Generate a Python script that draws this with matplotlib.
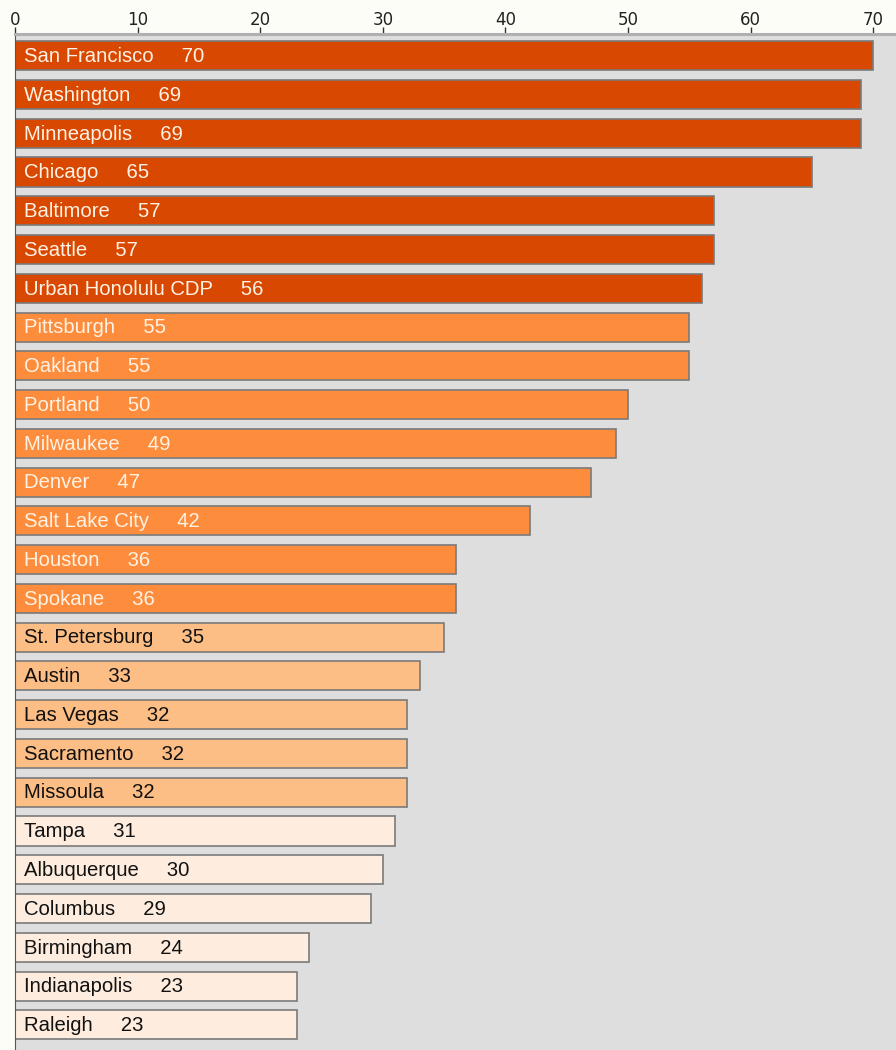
import matplotlib.pyplot as plt

cities = ['San Francisco', 'Washington', 'Minneapolis', 'Chicago', 'Baltimore',
          'Seattle', 'Urban Honolulu CDP', 'Pittsburgh', 'Oakland', 'Portland',
          'Milwaukee', 'Denver', 'Salt Lake City', 'Houston', 'Spokane',
          'St. Petersburg', 'Austin', 'Las Vegas', 'Sacramento', 'Missoula',
          'Tampa', 'Albuquerque', 'Columbus', 'Birmingham', 'Indianapolis', 'Raleigh']
values = [70, 69, 69, 65, 57, 57, 56, 55, 55, 50, 49, 47, 42, 36, 36,
          35, 33, 32, 32, 32, 31, 30, 29, 24, 23, 23]
ticks = [0, 10, 20, 30, 40, 50, 60, 70]


def bar_style(v):
    # colour bins -> (fill, text colour)
    if v >= 56:
        return '#d94801', '#fff2e4'
    if v >= 36:
        return '#fd8d3c', '#fff2e4'
    if v >= 32:
        return '#fdbe85', '#111111'
    return '#feedde', '#111111'


plt.rcParams['font.family'] = ['Liberation Sans', 'DejaVu Sans']
fig = plt.figure(figsize=(8.96, 10.5), dpi=100)
fig.patch.set_facecolor('#fdfdf8')
ax = fig.add_axes([15 / 896, 0, 1 - 15 / 896, 1 - 34 / 1050])
ax.set_facecolor('#dedede')

for i, (c, v) in enumerate(zip(cities, values)):
    fill, tc = bar_style(v)
    ax.barh(i, v, height=0.75, color=fill, edgecolor='#7a7a7a', linewidth=1.2)
    ax.text(0.75, i + 0.02, c + '     ' + str(v), va='center', ha='left',
            fontsize=14.6, color=tc)

ax.set_xlim(0, 71.85)
ax.set_ylim(25.65, -0.56)
ax.xaxis.tick_top()
ax.set_xticks(ticks)
ax.set_xticklabels([str(t) for t in ticks], fontsize=12, family='DejaVu Sans', color='#222222')
ax.tick_params(axis='x', length=5, width=1, color='#333333', pad=-1.5)
ax.set_yticks([])
for s in ['right', 'bottom']:
    ax.spines[s].set_visible(False)
ax.spines['top'].set_color('#b0b0b0')
ax.spines['top'].set_linewidth(2.2)
ax.spines['left'].set_color('#555555')

fig.savefig('out.png', dpi=100)
